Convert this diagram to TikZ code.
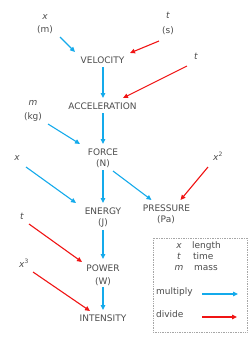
\documentclass[tikz,border=0pt]{standalone}
\usepackage{fontspec}
\setmainfont{DejaVu Sans}
\usetikzlibrary{arrows.meta}
\definecolor{mulblue}{RGB}{20,170,235}
\definecolor{divred}{RGB}{240,20,20}
\definecolor{txt}{RGB}{75,75,75}
\tikzset{
  lbl/.style={inner sep=0pt, text height=6.5pt, text depth=1.8pt, text=txt, font=\fontsize{9}{11}\selectfont},
  var/.style={lbl, font=\fontsize{9}{11}\selectfont\itshape},
  mul/.style={draw=mulblue, line width=1.1pt, -{Triangle[length=5pt,width=4.5pt]}},
  dvd/.style={draw=divred, line width=1.1pt, -{Triangle[length=5pt,width=4.5pt]}},
  legbox/.style={draw=gray!70, densely dotted, line width=0.7pt}
}
\begin{document}
\begin{tikzpicture}[x=1pt,y=-1pt]
\useasboundingbox (0,0) rectangle (250,338);
% variables
\node[var] (xa) at (45,17) {x};
\node[lbl] (xau) at (45,30) {(m)};
\node[var] (ta) at (168,16) {t};
\node[lbl] (tau) at (168,31) {(s)};
\node[var] (tb) at (196,57) {t};
\node[var] (mc) at (33,103) {m};
\node[lbl] (mcu) at (33,117) {(kg)};
\node[var] (xb) at (17,158) {x};
\node[var] (xsq) at (218,158) {x\textsuperscript{\upshape 2}};
\node[var] (tc) at (22,217) {t};
\node[var] (xcu) at (24,265) {x\textsuperscript{\upshape 3}};
% quantities
\node[lbl] (vel) at (102.5,61) {VELOCITY};
\node[lbl] (acc) at (102.5,107) {ACCELERATION};
\node[lbl] (force) at (103,153) {FORCE};
\node[lbl] (forceu) at (103,164) {(N)};
\node[lbl] (energy) at (103,212) {ENERGY};
\node[lbl] (energyu) at (103,223) {(J)};
\node[lbl] (pres) at (166.5,209) {PRESSURE};
\node[lbl] (presu) at (166,220) {(Pa)};
\node[lbl] (power) at (103,269) {POWER};
\node[lbl] (poweru) at (103,282) {(W)};
\node[lbl] (inten) at (103,319) {INTENSITY};
% arrows
\draw[mul] ([shift={(15,7)}]xau.center) -- ([shift={(-27.5,-9)}]vel.center);
\draw[dvd] ([shift={(-9,10)}]tau.center) -- ([shift={(27.5,-8)}]vel.center);
\draw[mul] ([shift={(0.5,6)}]vel.center) -- ([shift={(0.5,-9)}]acc.center);
\draw[dvd] ([shift={(-9,9)}]tb.center) -- ([shift={(20.5,-9)}]acc.center);
\draw[mul] ([shift={(15,7)}]mcu.center) -- ([shift={(-23,-9)}]force.center);
\draw[mul] ([shift={(0.5,6)}]acc.center) -- ([shift={(0,-9)}]force.center);
\draw[mul] ([shift={(9,9)}]xb.center) -- ([shift={(-27,-9)}]energy.center);
\draw[mul] ([shift={(0,6)}]forceu.center) -- ([shift={(0,-9)}]energy.center);
\draw[mul] ([shift={(10,7)}]forceu.center) -- ([shift={(-15,-9)}]pres.center);
\draw[dvd] ([shift={(-10,9)}]xsq.center) -- ([shift={(14,-9)}]pres.center);
\draw[dvd] ([shift={(7,7)}]tc.center) -- ([shift={(-21,-7)}]power.center);
\draw[mul] ([shift={(0,7)}]energyu.center) -- ([shift={(0,-10)}]power.center);
\draw[dvd] ([shift={(9,7)}]xcu.center) -- ([shift={(-13,-8)}]inten.center);
\draw[mul] ([shift={(0,5)}]poweru.center) -- ([shift={(0,-9)}]inten.center);
% legend
\node[legbox, minimum width=94pt, minimum height=94pt, inner sep=0pt] (leg) at (200,285) {};
\node[var] (lx) at (179,246) {x};
\node[lbl, anchor=west] (lxt) at (192,246) {length};
\node[var] (lt) at (179,257) {t};
\node[lbl, anchor=west] (ltt) at (193,257) {time};
\node[var] (lm) at (179,268) {m};
\node[lbl, anchor=west] (lmt) at (194,268) {mass};
\node[lbl, anchor=west] (lmul) at (156,292) {multiply};
\node[lbl, anchor=west] (ldiv) at (156,315) {divide};
\coordinate (ma) at (202,294);
\coordinate (mb) at (238,294);
\coordinate (da) at (202,317);
\coordinate (db) at (237,317);
\draw[mul] (ma) -- (mb);
\draw[dvd] (da) -- (db);
\end{tikzpicture}
\end{document}
